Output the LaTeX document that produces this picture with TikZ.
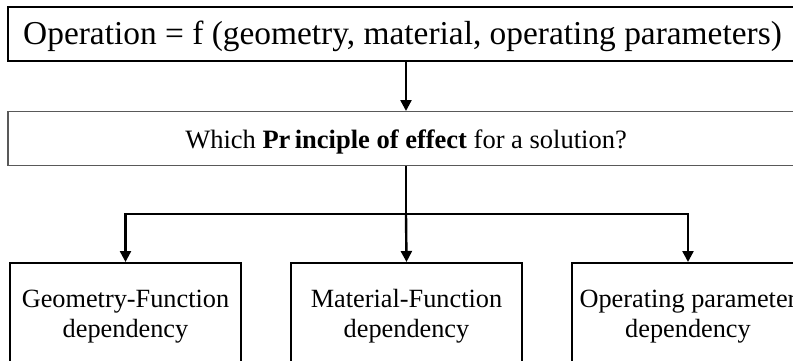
\documentclass[tikz,border=0pt]{standalone}
\usepackage{fontspec}
\setmainfont{Liberation Serif}
\usetikzlibrary{arrows.meta}
\begin{document}
\begin{tikzpicture}[x=1pt,y=-1pt,
  topbox/.style={draw=black,line width=1.6pt,anchor=north,inner xsep=0pt,inner ysep=0pt,
     font=\fontsize{33.4}{38}\selectfont},
  qbox/.style={draw=black!65,line width=1.1pt,anchor=north,inner xsep=0pt,inner ysep=0pt,
     font=\fontsize{26.5}{30}\selectfont},
  depbox/.style={draw=black,line width=1.6pt,anchor=north,inner xsep=0pt,inner ysep=0pt,
     align=center,font=\fontsize{26.3}{30}\selectfont,text depth=60pt},
  link/.style={line width=2.4pt,line join=miter},
  arr/.style={link,-{Triangle[length=11pt,width=11pt]}}]
\useasboundingbox (0,0) rectangle (793,360);
\clip (0,0) rectangle (793,360);
\node[topbox,minimum width=789pt,text height=38pt,text depth=16pt] (top) at (402.5,6)
  {Operation = f (geometry, material, operating parameters)};
\node[qbox,minimum width=796pt,text height=37pt,text depth=17pt] (q) at (406,111)
  {Which \textbf{Pr\,inciple of effect} for a solution?};
\coordinate (mid) at (406,0);
\coordinate (j) at (406,214);
\node[depbox,minimum width=231pt] (b1) at (125.5,262)
  {\rule{0pt}{45pt}Geometry-Function\\dependency};
\node[depbox,minimum width=231pt] (b2) at (406.5,262)
  {\rule{0pt}{45pt}Material-Function\\dependency};
\node[depbox,minimum width=232pt] (b3) at (688,262)
  {\rule{0pt}{45pt}Operating parameter\\dependency};
\draw[arr] (top.south -| mid) -- (q.north -| mid);
\draw[link] (q.south) -- (j);
\draw[arr] (j) -- (b2.north);
\draw[arr] (j) -| (b1.north);
\draw[arr] (j) -| (b3.north);
\end{tikzpicture}
\end{document}
